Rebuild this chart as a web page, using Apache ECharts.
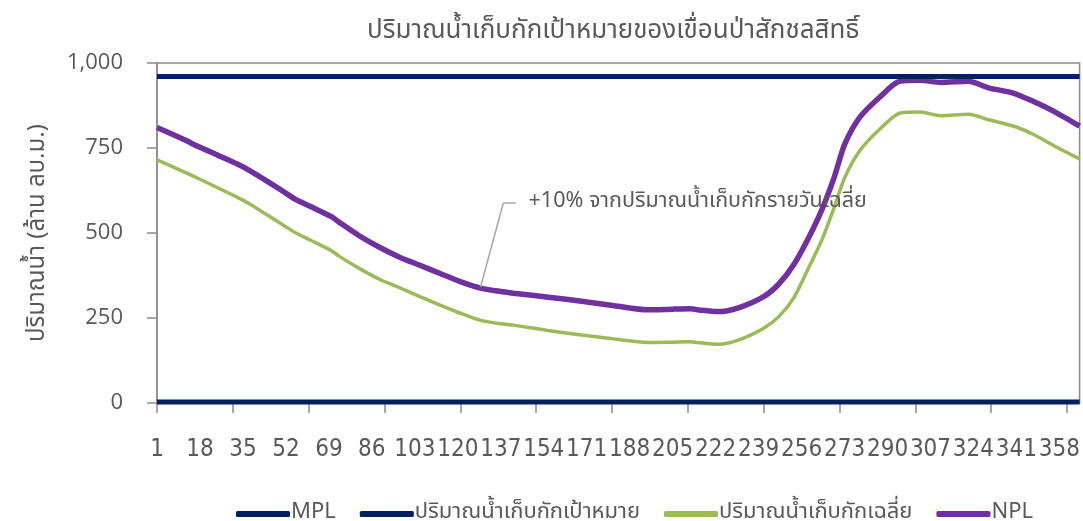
<!DOCTYPE html>
<html>
<head>
<meta charset="utf-8">
<script src="https://cdn.jsdelivr.net/npm/echarts@6/dist/echarts.min.js"></script>
<style>
html,body{margin:0;padding:0;background:#fff;}
#c{width:1083px;height:521px;}
</style>
</head>
<body>
<div id="c"></div>
<script>
// Day-of-year categories (1..366)
const days = [];
for (let d = 1; d <= 366; d++) days.push(String(d));
const labelEvery = 17;   // a tick label every 17 days (1, 18, 35, ...)
const tickEvery = 30;    // a tick mark every 30 days

// [dayIndex, value] (million m3)
const mplLevel = [[0, 3], [365, 3]];
const targetLevel = [[0, 960], [365, 960]];

const avgStorage = [
  [0,715],[10,682],[17,658],[24,633],[32,604],[37,584],[43,556],[50,523],[55,500],[61,478],
  [69,448],[72,432],[80,396],[88,364],[96,339],[104,313],[112,288],[120,264],[128,243],[136,233],
  [141,229],[154,214],[168,200],[181,188],[194,178],[204,179],[211,180],[215,177],[222,173],[230,185],
  [240,220],[246,254],[252,310],[258,401],[263,479],[268,577],[272,662],[278,742],[286,806],[294,853],
  [302,856],[310,845],[321,849],[329,833],[339,814],[347,789],[355,756],[365,718]
];

const nplStorage = [
  [0,810],[10,777],[17,752],[24,729],[32,702],[37,682],[43,655],[50,622],[55,598],[61,577],
  [69,548],[72,532],[80,492],[88,458],[96,429],[104,405],[112,381],[120,357],[128,338],[136,328],
  [141,323],[154,312],[168,299],[181,286],[194,274],[204,276],[211,277],[215,273],[222,269],[230,280],
  [240,313],[246,350],[252,408],[258,489],[263,568],[268,666],[272,760],[278,840],[286,900],[294,947],
  [302,949],[310,943],[321,946],[329,927],[339,911],[347,886],[355,857],[365,814]
];

const yTicks = { min: 0, max: 1000, interval: 250 };
const seriesNames = ['MPL', 'ปริมาณน้ำเก็บกักเป้าหมาย', 'ปริมาณน้ำเก็บกักเฉลี่ย', 'NPL'];
const titleText = 'ปริมาณน้ำเก็บกักเป้าหมายของเขื่อนป่าสักชลสิทธิ์';
const yName = 'ปริมาณน้ำ (ล้าน ลบ.ม.)';
const noteText = '+10% จากปริมาณน้ำเก็บกักรายวันเฉลี่ย';
const noteLeader = [[127.5, 341], [136.6, 588], [141.8, 588]];
const noteAnchor = [146.5, 588];

const navy = '#002060', purple = '#7030A0', green = '#9BBB59', grey = '#595959';
const thaiFont = '"Noto Sans Thai","Noto Sans","DejaVu Sans",sans-serif';

const chart = echarts.init(document.getElementById('c'));
chart.setOption({
  animation: false,
  backgroundColor: '#fff',
  title: {
    text: titleText, left: 362, top: 15,
    textStyle: { fontFamily: thaiFont, fontSize: 26, fontWeight: 'normal', color: grey }
  },
  grid: { left: 157, right: 3, top: 63, bottom: 118, show: true, borderColor: '#8C8C8C', borderWidth: 1.5 },
  legend: {
    top: 498, left: 231,
    data: seriesNames,
    icon: 'roundRect', itemWidth: 54, itemHeight: 6, itemGap: 24,
    textStyle: { fontFamily: thaiFont, fontSize: 22, color: grey, padding: [0, 0, 0, -4] }
  },
  xAxis: {
    type: 'category', data: days, boundaryGap: false,
    axisLine: { lineStyle: { color: '#8C8C8C', width: 1.5 } },
    axisTick: { show: true, interval: function (i) { return i % tickEvery === 0; }, length: 10, lineStyle: { color: '#8C8C8C', width: 1.5 } },
    axisLabel: { interval: 0, margin: 35, color: grey, fontSize: 24,
      fontFamily: '"Liberation Sans Narrow","DejaVu Sans Condensed",sans-serif',
      formatter: function (v, i) { return i % labelEvery === 0 ? v : ''; } },
    splitLine: { show: false }
  },
  yAxis: {
    type: 'value', min: yTicks.min, max: yTicks.max, interval: yTicks.interval,
    name: yName, nameLocation: 'middle', nameGap: 106, nameRotate: 90,
    nameTextStyle: { fontFamily: thaiFont, fontSize: 24, color: grey },
    axisLine: { show: true, lineStyle: { color: '#8C8C8C', width: 1.5 } },
    axisTick: { show: true, length: 10, lineStyle: { color: '#8C8C8C', width: 1.5 } },
    axisLabel: { margin: 34, color: grey, fontSize: 22, fontFamily: '"Open Sans","DejaVu Sans",sans-serif',
      formatter: function (v) { return v.toLocaleString('en-US'); } },
    splitLine: { show: false }
  },
  series: [
    { name: seriesNames[0], type: 'line', data: mplLevel, showSymbol: false, symbol: 'none',
      lineStyle: { color: navy, width: 5 }, itemStyle: { color: navy }, z: 5 },
    { name: seriesNames[1], type: 'line', data: targetLevel, showSymbol: false, symbol: 'none',
      lineStyle: { color: navy, width: 5 }, itemStyle: { color: navy }, z: 5 },
    { name: seriesNames[2], type: 'line', data: avgStorage, showSymbol: false, symbol: 'none', smooth: 0.25,
      lineStyle: { color: green, width: 3.5 }, itemStyle: { color: green }, z: 4 },
    { name: seriesNames[3], type: 'line', data: nplStorage, showSymbol: false, symbol: 'none', smooth: 0.25,
      lineStyle: { color: purple, width: 5.5 }, itemStyle: { color: purple }, z: 4,
      markLine: {
        silent: true, symbol: ['none', 'none'], animation: false,
        lineStyle: { color: '#A6A6A6', width: 1.5, type: 'solid' },
        label: { show: false },
        data: [
          [{ coord: noteLeader[0] }, { coord: noteLeader[1] }],
          [{ coord: noteLeader[1] }, { coord: noteLeader[2] }]
        ]
      },
      markPoint: {
        silent: true, symbol: 'circle', symbolSize: 0,
        data: [{ coord: noteAnchor, label: { show: true, position: 'right', distance: 0, formatter: noteText,
          fontFamily: thaiFont, fontSize: 21.5, color: grey } }]
      }
    }
  ]
});
</script>
</body>
</html>
